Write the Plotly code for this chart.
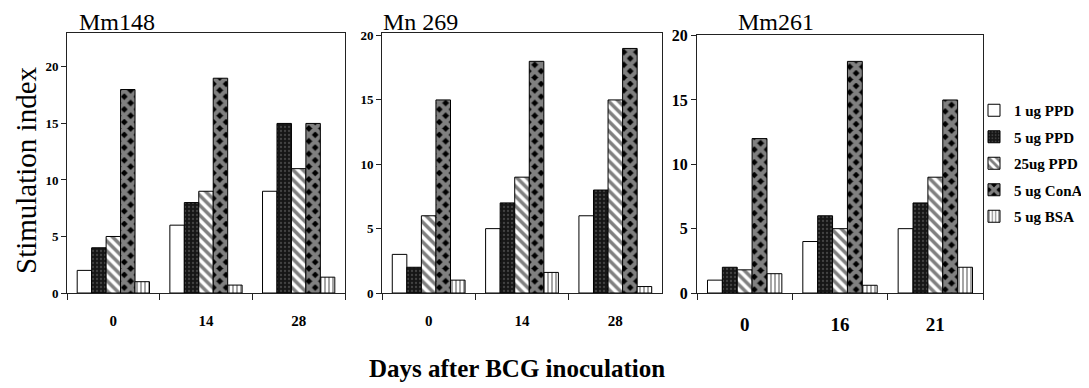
import plotly.graph_objects as go

# ---- data ----
series_names = ["1 ug PPD", "5 ug PPD", "25ug PPD", "5 ug ConA", "5 ug BSA"]

days_mm148 = ["0", "14", "28"]
mm148_ppd1 = [2, 6, 9]
mm148_ppd5 = [4, 8, 15]
mm148_ppd25 = [5, 9, 11]
mm148_cona = [18, 19, 15]
mm148_bsa = [1, 0.7, 1.4]

days_mn269 = ["0", "14", "28"]
mn269_ppd1 = [3, 5, 6]
mn269_ppd5 = [2, 7, 8]
mn269_ppd25 = [6, 9, 15]
mn269_cona = [15, 18, 19]
mn269_bsa = [1, 1.6, 0.5]

days_mm261 = ["0", "16", "21"]
mm261_ppd1 = [1, 4, 5]
mm261_ppd5 = [2, 6, 7]
mm261_ppd25 = [1.8, 5, 9]
mm261_cona = [12, 18, 15]
mm261_bsa = [1.5, 0.6, 2]

panel_titles = ["Mm148", "Mn 269", "Mm261"]
y_ticks = [0, 5, 10, 15, 20]

# ---- styles ----
FONT = "Liberation Serif, Times New Roman, serif"
patterns = [
    dict(shape="", bgcolor="white"),
    dict(shape=".", bgcolor="#161616", fgcolor="#707070", size=4, solidity=0.25),
    dict(shape="\\", bgcolor="white", fgcolor="black", size=7, solidity=0.5),
    dict(shape="x", bgcolor="black", fgcolor="white", size=9, solidity=0.72),
    dict(shape="|", bgcolor="white", fgcolor="black", size=4, solidity=0.35),
]
fills = ["white", "#161616", "white", "black", "white"]

panels = [
    (days_mm148, [mm148_ppd1, mm148_ppd5, mm148_ppd25, mm148_cona, mm148_bsa]),
    (days_mn269, [mn269_ppd1, mn269_ppd5, mn269_ppd25, mn269_cona, mn269_bsa]),
    (days_mm261, [mm261_ppd1, mm261_ppd5, mm261_ppd25, mm261_cona, mm261_bsa]),
]

W, H = 1089, 388
OFF = 8  # page body margin: the figure is drawn 8px right/down in the window


def fx(px):
    return (px - OFF) / W


def fy(py):
    return 1 - (py - OFF) / H


x_dom = [(67, 345), (382, 662), (697, 983)]
y_top = [33, 33, 35]
y_bot = 293
y_ranges = [[0, 23], [0, 20.2], [0, 20.05]]
ytick_size = [13, 13, 16]
xtick_size = [15, 15, 19]

fig = go.Figure()
for p, (days, vals) in enumerate(panels):
    ax = "" if p == 0 else str(p + 1)
    for s, name in enumerate(series_names):
        fig.add_trace(go.Bar(
            x=days, y=vals[s], name=name,
            xaxis="x" + ax, yaxis="y" + ax,
            marker=dict(color=fills[s], line=dict(color="black", width=1),
                        pattern=patterns[s]),
            showlegend=(p == 2), legendgroup=name,
        ))
    fig.layout["xaxis" + ax] = dict(
        domain=[fx(x_dom[p][0]), fx(x_dom[p][1])], anchor="y" + ax,
        type="category", showline=True, linecolor="#222", linewidth=1, mirror=True,
        ticks="outside", tickson="boundaries", ticklen=6, tickcolor="#222",
        ticklabelstandoff=14, automargin=False,
        tickfont=dict(family=FONT, size=xtick_size[p], color="black", weight="bold"),
        showgrid=False, zeroline=False, fixedrange=True,
    )
    fig.layout["yaxis" + ax] = dict(
        domain=[fy(y_bot), fy(y_top[p])], anchor="x" + ax,
        range=y_ranges[p], tickvals=y_ticks, showline=True, linecolor="#222",
        linewidth=1, mirror=True, ticks="outside", ticklen=5, tickcolor="#222",
        automargin=False,
        tickfont=dict(family=FONT, size=ytick_size[p], color="black", weight="bold"),
        showgrid=False, zeroline=False, fixedrange=True,
    )

title_x = [78, 382, 737]
annotations = []
for p, t in enumerate(panel_titles):
    annotations.append(dict(
        text=t, x=fx(title_x[p]), y=fy(OFF), xref="paper", yref="paper",
        xanchor="left", yanchor="top", showarrow=False, borderpad=0,
        font=dict(family=FONT, size=24, color="black"),
    ))
annotations.append(dict(
    text="Stimulation index", x=fx(OFF), y=fy(170), xref="paper", yref="paper",
    xanchor="left", yanchor="middle", textangle=-90, showarrow=False,
    font=dict(family=FONT, size=29, color="black"),
))
annotations.append(dict(
    text="Days after BCG inoculation", x=fx(517), y=fy(368), xref="paper",
    yref="paper", xanchor="center", yanchor="middle", showarrow=False,
    font=dict(family=FONT, size=25, color="black", weight="bold"),
))

fig.update_layout(
    width=W, height=H, margin=dict(l=0, r=0, t=0, b=0, autoexpand=False),
    paper_bgcolor="white", plot_bgcolor="white",
    barmode="group", bargap=0.22, bargroupgap=0,
    annotations=annotations,
    legend=dict(x=fx(974), y=fy(94), xanchor="left", yanchor="top",
                font=dict(family=FONT, size=15, color="black", weight="bold"),
                bgcolor="rgba(0,0,0,0)", itemwidth=30, tracegroupgap=4),
)

fig.write_html("out.html")
